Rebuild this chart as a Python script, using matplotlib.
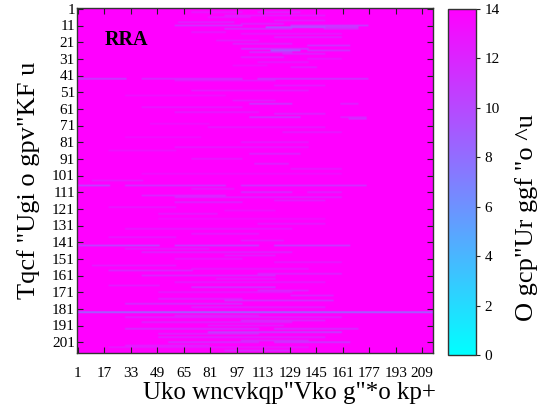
import numpy as np
import matplotlib
matplotlib.use('Agg')
import matplotlib.pyplot as plt

plt.rcParams['font.family'] = ['Liberation Serif', 'DejaVu Serif']

# grid size: road segments x simulation minutes
n_segments = 207
n_minutes = 215
free_speed = 14.0

# slower stretches: segment id, first minute, last minute, mean speed (m/s)
slow_row = [3, 3, 5, 6, 8, 9, 10, 11, 11, 12, 12, 13, 13, 15, 16, 18, 20, 22, 23,
            25, 26, 26, 27, 28, 30, 31, 33, 35, 36,
            43, 43, 43, 44, 47, 50, 53, 56, 58, 58, 60, 63, 64, 66, 66, 67, 70, 72,
            75, 78, 81, 84, 86, 88, 91, 94, 97, 100,
            104, 107, 107, 107, 109, 111, 111, 113, 114, 116, 117, 120, 122, 124,
            127, 130, 133, 136, 138, 140, 143, 143, 143, 145, 147, 149, 151, 153,
            155, 157, 158, 160, 161, 163, 165, 167, 168, 170, 171, 173, 175, 176,
            178, 180, 183, 185, 186, 188, 189, 191, 193, 193, 195, 196, 198, 200,
            201, 201, 203, 204, 206]
slow_start = [70, 110, 90, 80, 120, 62, 100, 60, 130, 115, 140, 90, 150, 70, 100, 120, 85, 95, 140,
              100, 118, 140, 105, 125, 100, 140, 110, 95, 130,
              1, 40, 110, 60, 120, 70, 30, 95, 105, 160, 40, 60, 120, 105, 160, 165, 45, 80,
              125, 30, 100, 60, 20, 105, 70, 108, 130, 40,
              10, 1, 30, 100, 70, 100, 140, 40, 60, 120, 60, 20, 90, 50,
              50, 110, 30, 70, 20, 100, 1, 60, 120, 30, 40, 90, 60, 120,
              10, 70, 20, 110, 40, 85, 60, 20, 70, 110, 50, 130, 50, 90,
              30, 70, 1, 60, 30, 100, 40, 80, 30, 120, 80, 50, 50, 100,
              56, 120, 30, 20, 90]
slow_end = [100, 135, 150, 105, 150, 95, 125, 100, 176, 150, 170, 130, 170, 90, 160, 160, 110, 130, 165,
            140, 135, 165, 130, 150, 125, 160, 140, 115, 145,
            30, 100, 176, 120, 150, 140, 90, 120, 130, 170, 100, 110, 150, 135, 175, 175, 80, 150,
            160, 75, 140, 140, 60, 135, 100, 128, 160, 160,
            40, 20, 90, 175, 95, 130, 160, 90, 160, 150, 100, 60, 120, 85,
            150, 150, 130, 110, 60, 125, 50, 110, 165, 80, 130, 120, 100, 160,
            60, 140, 70, 160, 120, 120, 150, 50, 120, 140, 130, 155, 100, 155,
            100, 150, 215, 110, 160, 150, 130, 125, 110, 170, 160, 110, 150, 140,
            110, 165, 80, 140, 130]
slow_speed = [12.5, 12, 12.5, 12.5, 12.5, 12, 12, 11.5, 11, 9.5, 11, 11.5, 12, 12.5, 12.5, 12, 12.5, 12, 11.5,
              11, 9.5, 11.5, 11.5, 12, 12, 12.5, 12.5, 13, 12,
              10.5, 11.5, 11, 12.5, 12.5, 12.5, 13, 12.5, 11, 12, 12.5, 12.5, 12, 11, 12, 11.5, 13, 12.5,
              12.5, 13, 12.5, 12.5, 13, 12, 12.5, 12, 12.5, 13,
              12.5, 10.5, 11.5, 11.5, 12.5, 11.5, 12, 12, 12, 12.5, 12, 12.5, 13, 12.5,
              13, 12.5, 12.5, 12.5, 12.5, 12.5, 10.5, 11, 11, 12.5, 12, 12.5, 12.5, 12.5,
              12.5, 12.5, 12, 12, 12, 12.5, 12.5, 12.5, 11, 12, 12.5, 12, 12, 11.5,
              11.5, 12, 8, 12.5, 12, 12, 12, 12.5, 11.5, 11.5, 10.5, 12, 12, 12,
              11.5, 11, 12.5, 12.5, 12]

x_ticks = list(range(1, n_minutes + 1, 16))
y_ticks = list(range(1, n_segments + 1, 10))
cbar_ticks = list(range(0, 15, 2))

speed = np.full((n_segments, n_minutes), free_speed)
for r, c0, c1, v in zip(slow_row, slow_start, slow_end, slow_speed):
    speed[r - 1, c0 - 1:c1] = np.minimum(speed[r - 1, c0 - 1:c1], v)

W, H = 548, 418
fig = plt.figure(figsize=(W / 100, H / 100), dpi=100)
ax = fig.add_axes([77 / W, 1 - 353 / H, 356 / W, 345 / H])
cax = fig.add_axes([448 / W, 1 - 355 / H, 28 / W, 346 / H])

im = ax.imshow(speed, cmap='cool', vmin=0, vmax=14, aspect='auto',
               extent=(0.5, n_minutes + 0.5, n_segments + 0.5, 0.5),
               interpolation='bilinear')

ax.set_xticks(x_ticks)
ax.set_yticks(y_ticks)
ax.tick_params(direction='in', top=True, right=True, length=4, width=0.8,
               labelsize=11, color='#222222')
ax.tick_params(axis='x', pad=10)
ax.tick_params(axis='y', pad=1.5)
for s in ax.spines.values():
    s.set_color('#333333')
    s.set_linewidth(1.0)

ax.set_xlabel('Uko wncvkqp"Vko g"*o kp+', fontsize=18)
ax.xaxis.set_label_coords(0.596, -0.085)
ax.set_ylabel('Tqcf "Ugi o gpv"KF u', fontsize=19)
ax.yaxis.set_label_coords(-0.104, 0.5)

ax.text(0.079, 0.907, 'RRA', transform=ax.transAxes, fontsize=14.5,
        fontweight='bold', ha='left', va='center', color='black')

cb = fig.colorbar(im, cax=cax, ticks=cbar_ticks)
cb.outline.set_edgecolor('#333333')
cb.outline.set_linewidth(1.0)
cax.tick_params(direction='out', length=3, width=0.8, labelsize=11, pad=3,
                color='#222222')
cax.text(2.82, 0.396, 'O gcp"Ur ggf "o ^u', transform=cax.transAxes, rotation=90,
         ha='center', va='center', fontsize=19)

fig.savefig('out.png', dpi=100)
